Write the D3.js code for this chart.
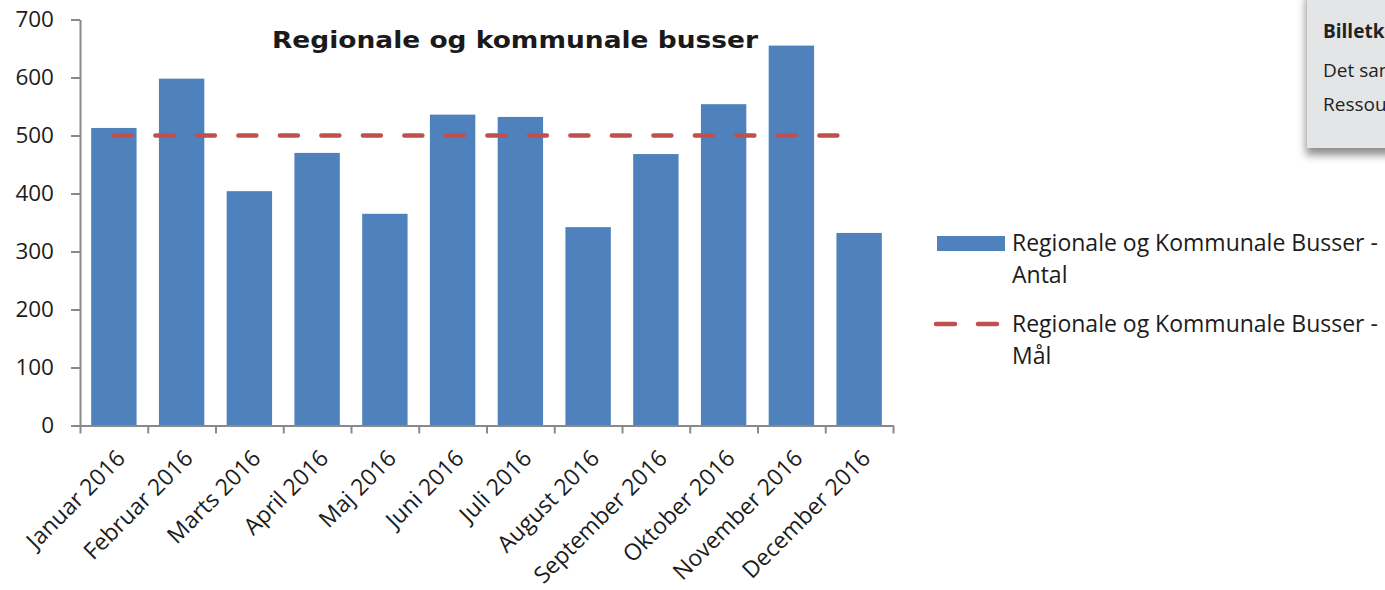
<!DOCTYPE html>
<html>
<head>
<meta charset="utf-8">
<script src="https://cdn.jsdelivr.net/npm/d3@7"></script>
<style>
  html, body { margin: 0; padding: 0; background: #ffffff; }
  svg { display: block; }
  .lbl { font-family: "Open Sans", Lato, sans-serif; fill: #1c1c1c; }
</style>
</head>
<body>
<script>
// Monthly counts for regional and municipal buses, 2016
const months = ["Januar 2016", "Februar 2016", "Marts 2016", "April 2016", "Maj 2016", "Juni 2016",
                "Juli 2016", "August 2016", "September 2016", "Oktober 2016", "November 2016", "December 2016"];
const antal = [513, 598, 404, 470, 365, 536, 532, 342, 468, 554, 655, 332];
const maal = [500, 500, 500, 500, 500, 500, 500, 500, 500, 500, 500, 500];
const yTicks = [0, 100, 200, 300, 400, 500, 600, 700];
const chartTitle = "Regionale og kommunale busser";
const legendAntal = ["Regionale og Kommunale Busser -", "Antal"];
const legendMaal = ["Regionale og Kommunale Busser -", "Mål"];
const panelLines = ["Billetkontrol", "Det samlede", "Ressourcer"];

const W = 1385, H = 590;
const svg = d3.select("body").append("svg").attr("width", W).attr("height", H);

const barColor = "#4f81bd", lineColor = "#c0504d", axisColor = "#898989";
const plotLeft = 80, plotRight = 893, plotTop = 19.5, plotBottom = 425.5;

const x = d3.scaleBand().domain(months).range([plotLeft, plotRight]).paddingInner(0.33).paddingOuter(0.165);
const xEdges = d3.scaleLinear().domain([0, months.length]).range([plotLeft, plotRight]);
const y = d3.scaleLinear().domain([0, 700]).range([plotBottom, plotTop]);

// Bars
svg.append("g").selectAll("rect").data(antal).join("rect")
  .attr("x", (d, i) => x(months[i]))
  .attr("y", d => y(d))
  .attr("width", x.bandwidth())
  .attr("height", d => y(0) - y(d))
  .attr("fill", barColor);

// Y axis
const yAxis = svg.append("g").attr("transform", `translate(${plotLeft},0)`)
  .call(d3.axisLeft(y).tickValues(yTicks).tickSize(9).tickSizeOuter(0).tickPadding(17));
yAxis.select(".domain").attr("stroke", axisColor).attr("stroke-width", 2);
yAxis.selectAll(".tick line").attr("stroke", axisColor).attr("stroke-width", 2);
yAxis.selectAll(".tick text").attr("class", "lbl").attr("font-size", 22.5).attr("fill", "#1c1c1c");

// X axis (ticks between categories)
const xAxis = svg.append("g").attr("transform", `translate(0,${y(0)})`)
  .call(d3.axisBottom(xEdges).tickValues(d3.range(months.length + 1)).tickSize(8).tickSizeOuter(0).tickFormat(""));
xAxis.select(".domain").attr("stroke", axisColor).attr("stroke-width", 2);
xAxis.selectAll(".tick line").attr("stroke", axisColor).attr("stroke-width", 2);

// Rotated category labels
svg.append("g").selectAll("text").data(months).join("text")
  .attr("class", "lbl")
  .attr("font-size", 23)
  .attr("text-anchor", "end")
  .attr("transform", d => `translate(${x(d) + x.bandwidth() / 2 + 1},448) rotate(-45)`)
  .attr("dy", "0.72em")
  .text(d => d);

// Target line
const line = d3.line().x((d, i) => x(months[i]) + x.bandwidth() / 2).y(d => y(d));
svg.append("path").datum(maal)
  .attr("d", line)
  .attr("fill", "none")
  .attr("stroke", lineColor)
  .attr("stroke-width", 4.5)
  .attr("stroke-linecap", "round")
  .attr("stroke-dasharray", "18,23.5");

// Title
svg.append("text")
  .attr("x", 272).attr("y", 48)
  .attr("font-family", "DejaVu Sans, Verdana, sans-serif")
  .attr("font-weight", "bold")
  .attr("font-size", 23)
  .attr("textLength", 486)
  .attr("lengthAdjust", "spacingAndGlyphs")
  .attr("fill", "#1a1a1a")
  .text(chartTitle);

// Legend
const lg = svg.append("g");
lg.append("rect").attr("x", 937).attr("y", 236).attr("width", 68).attr("height", 15).attr("fill", barColor);
lg.append("line").attr("x1", 936).attr("x2", 1000).attr("y1", 324).attr("y2", 324)
  .attr("stroke", lineColor).attr("stroke-width", 4.5).attr("stroke-linecap", "round")
  .attr("stroke-dasharray", "19,23");
[[legendAntal, 251], [legendMaal, 332]].forEach(([lines, y0]) => {
  lines.forEach((t, k) => {
    lg.append("text").attr("class", "lbl").attr("font-size", 23)
      .attr("x", 1012).attr("y", y0 + k * 32).text(t);
  });
});

// Side panel
const defs = svg.append("defs");
const f = defs.append("filter").attr("id", "shadow").attr("x", "-20%").attr("y", "-20%").attr("width", "150%").attr("height", "150%");
f.append("feDropShadow").attr("dx", -1).attr("dy", 7).attr("stdDeviation", 4)
  .attr("flood-color", "#000").attr("flood-opacity", 0.45);
const panel = svg.append("g");
panel.append("rect").attr("x", 1307).attr("y", -10).attr("width", 120).attr("height", 158)
  .attr("fill", "#e4e5e7").attr("filter", "url(#shadow)");
panelLines.forEach((t, k) => {
  panel.append("text")
    .attr("x", 1323).attr("y", [38, 77, 111][k])
    .attr("font-family", "'Open Sans', sans-serif")
    .attr("font-size", 19)
    .attr("font-weight", k === 0 ? "bold" : "normal")
    .attr("fill", "#222")
    .text(t);
});
</script>
</body>
</html>
